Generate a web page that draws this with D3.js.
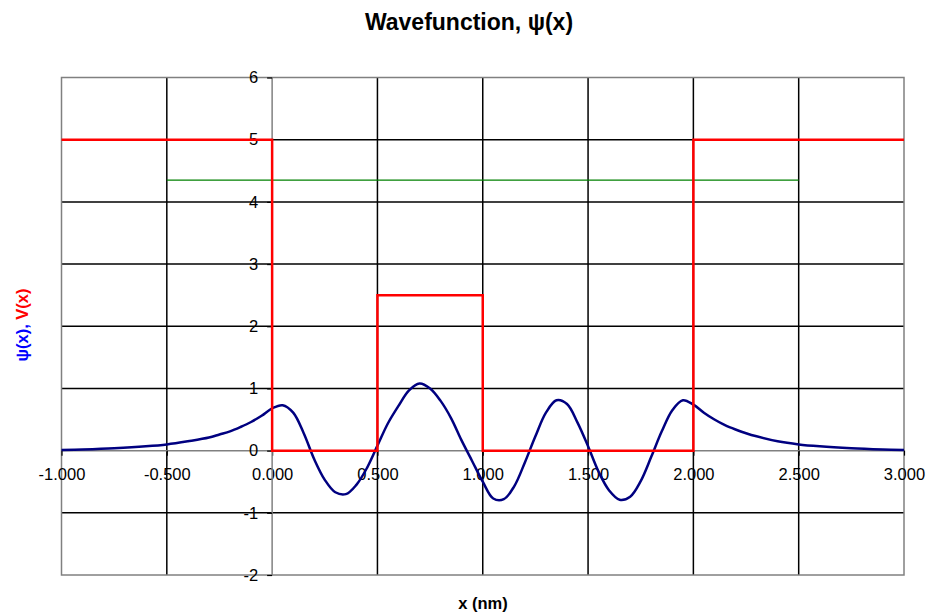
<!DOCTYPE html>
<html>
<head>
<meta charset="utf-8">
<script src="https://cdn.jsdelivr.net/npm/d3@7"></script>
<style>
  html, body { margin: 0; padding: 0; background: #ffffff; }
  svg { display: block; font-family: "Liberation Sans", Arial, sans-serif; }
</style>
</head>
<body>
<svg id="chart" width="928" height="616"></svg>
<script>
// Wavefunction sample points (x in nm, ψ in arbitrary units)
const psiX = [-1.0, -0.9, -0.75, -0.6, -0.5, -0.4, -0.3, -0.25, -0.2, -0.15, -0.1, -0.05,
              0.0, 0.05, 0.10, 0.15, 0.20, 0.25, 0.30, 0.35, 0.40, 0.45, 0.50,
              0.55, 0.60, 0.65, 0.70, 0.75, 0.80, 0.85, 0.90, 0.95, 1.00,
              1.05, 1.10, 1.15, 1.20, 1.25, 1.30, 1.35, 1.40, 1.45, 1.50,
              1.55, 1.60, 1.65, 1.70, 1.75, 1.80, 1.85, 1.90, 1.95, 2.00,
              2.05, 2.10, 2.15, 2.20, 2.25, 2.30, 2.40, 2.50, 2.60, 2.75, 2.90, 3.00];
const psiY = [0.01, 0.02, 0.04, 0.07, 0.10, 0.15, 0.21, 0.26, 0.31, 0.38, 0.46, 0.56,
              0.68, 0.73, 0.61, 0.28, -0.14, -0.47, -0.67, -0.70, -0.55, -0.28, 0.08,
              0.44, 0.72, 0.97, 1.08, 1.00, 0.80, 0.52, 0.16, -0.17, -0.50,
              -0.77, -0.78, -0.57, -0.19, 0.23, 0.61, 0.81, 0.75, 0.45, 0.07,
              -0.34, -0.64, -0.79, -0.74, -0.49, -0.10, 0.31, 0.65, 0.81, 0.74,
              0.61, 0.50, 0.41, 0.34, 0.28, 0.23, 0.15, 0.10, 0.07, 0.04, 0.02, 0.01];

// Potential V(x): piecewise constant, each level starts at the given x
const potentialX = [-1.0, 0.0, 0.5, 1.0, 2.0, 3.0];
const potentialV = [5, 0, 2.5, 0, 5, 5];

// Energy level line
const energyX = [-0.5, 2.5];
const energyE = 4.35;

// Axis ticks
const xTicks = [-1.0, -0.5, 0.0, 0.5, 1.0, 1.5, 2.0, 2.5, 3.0];
const yTicks = [-2, -1, 0, 1, 2, 3, 4, 5, 6];

const svg = d3.select("#chart");
const plotL = 61.5, plotR = 904, plotT = 77.5, plotB = 575;

const x = d3.scaleLinear().domain([-1, 3]).range([plotL, plotR]);
const y = d3.scaleLinear().domain([-2, 6]).range([plotB, plotT]);

// Plain hyphen-minus for negative tick labels
const hyphen = f => d => f(d).replace("\u2212", "-");

// Gridlines
const grid = svg.append("g");
grid.selectAll("line.v").data(xTicks.filter(d => d !== -1 && d !== 0 && d !== 3)).join("line")
  .attr("class", "v")
  .attr("x1", d => x(d)).attr("x2", d => x(d)).attr("y1", plotT).attr("y2", plotB)
  .attr("stroke", "#000").attr("stroke-width", 1.5);
grid.selectAll("line.h").data(yTicks.filter(d => d !== -2 && d !== 0 && d !== 6)).join("line")
  .attr("class", "h")
  .attr("x1", plotL).attr("x2", plotR).attr("y1", d => y(d)).attr("y2", d => y(d))
  .attr("stroke", "#000").attr("stroke-width", 1.5);

// Plot frame
svg.append("rect")
  .attr("x", plotL).attr("y", plotT).attr("width", plotR - plotL).attr("height", plotB - plotT)
  .attr("fill", "none").attr("stroke", "#808080").attr("stroke-width", 1.5);

// Axes crossing at the origin
const xAxis = d3.axisBottom(x).tickValues(xTicks).tickFormat(hyphen(d3.format(".3f"))).tickSize(5).tickPadding(13);
const yAxis = d3.axisLeft(y).tickValues(yTicks).tickFormat(hyphen(d3.format("d"))).tickSize(5).tickPadding(9);

const gx = svg.append("g").attr("transform", `translate(0,${y(0)})`).call(xAxis);
const gy = svg.append("g").attr("transform", `translate(${x(0)},0)`).call(yAxis);
[gx, gy].forEach(g => {
  g.select(".domain").attr("stroke", "#808080").attr("stroke-width", 1.5);
  g.selectAll(".tick line").attr("stroke", "#000").attr("stroke-width", 1.2);
  g.selectAll(".tick text").attr("fill", "#000")
    .style("font-family", "'Liberation Sans', Arial, sans-serif").style("font-size", "16.5px");
});
gx.select(".domain").attr("d", `M${plotL},0H${plotR}`);
gy.select(".domain").attr("d", `M0,${plotT}V${plotB}`);

// Energy level
svg.append("line")
  .attr("x1", x(energyX[0])).attr("x2", x(energyX[1]))
  .attr("y1", y(energyE)).attr("y2", y(energyE))
  .attr("stroke", "#008000").attr("stroke-width", 1.2);

// Wavefunction
const psiData = psiX.map((d, i) => [d, psiY[i]]);
svg.append("path")
  .datum(psiData)
  .attr("fill", "none").attr("stroke", "#000080").attr("stroke-width", 2.5)
  .attr("stroke-linejoin", "round")
  .attr("d", d3.line().x(d => x(d[0])).y(d => y(d[1])).curve(d3.curveCatmullRom.alpha(0.5)));

// Potential
const vData = potentialX.map((d, i) => [d, potentialV[i]]);
svg.append("path")
  .datum(vData)
  .attr("fill", "none").attr("stroke", "#ff0000").attr("stroke-width", 2.5)
  .attr("d", d3.line().x(d => x(d[0])).y(d => y(d[1])).curve(d3.curveStepAfter));

// Title
svg.append("text")
  .attr("x", 469).attr("y", 30).attr("text-anchor", "middle")
  .style("font-size", "23px").style("font-weight", "bold")
  .text("Wavefunction, ψ(x)");

// X axis title
svg.append("text")
  .attr("x", 483).attr("y", 609).attr("text-anchor", "middle")
  .style("font-size", "16.5px").style("font-weight", "bold")
  .text("x (nm)");

// Y axis title (two colours)
const yt = svg.append("text")
  .attr("transform", "translate(28,325) rotate(-90)")
  .attr("text-anchor", "middle")
  .style("font-size", "16.5px").style("font-weight", "bold");
yt.append("tspan").attr("fill", "#0000ff").text("ψ(x), ");
yt.append("tspan").attr("fill", "#ff0000").text("V(x)");
</script>
</body>
</html>
